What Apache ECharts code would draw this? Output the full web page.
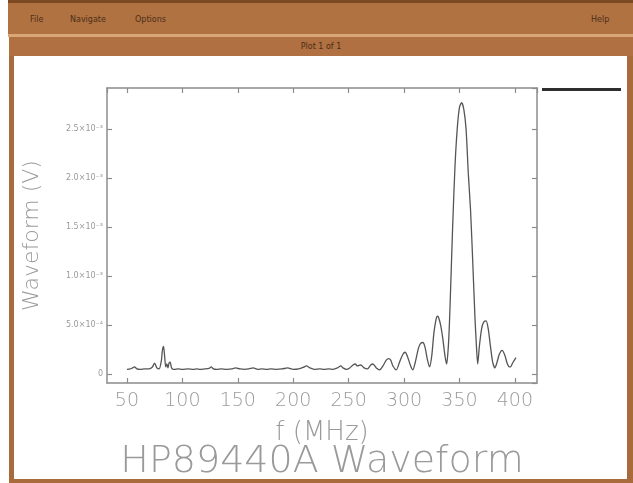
<!DOCTYPE html>
<html>
<head>
<meta charset="utf-8">
<title>HP89440A Waveform</title>
<script src="https://cdn.jsdelivr.net/npm/echarts@6/dist/echarts.min.js"></script>
<style>
  html, body { margin: 0; padding: 0; background: #fff; }
  #frame { position: absolute; left: 0; top: 0; width: 633px; height: 483px; overflow: hidden; }
  .menubar { position: absolute; left: 8px; top: 0; width: 625px; height: 34px;
    background: #b17242; border-top: 3px solid #7c4a22; box-sizing: border-box;
    font: 8px "DejaVu Sans", sans-serif; color: #4a2e18; }
  .menubar span { position: absolute; top: 12px; }
  .sep { position: absolute; left: 8px; top: 34px; width: 625px; height: 3px; background: #d9a676; }
  .titlebar { position: absolute; left: 9px; top: 37px; width: 624px; height: 19px;
    background: #b07041; font: 8px "DejaVu Sans", sans-serif; color: #4a2e18;
    text-align: center; line-height: 19px; }
  .side { position: absolute; background: #a96b3c; }
  #chart { position: absolute; left: 0; top: 0; width: 633px; height: 483px; }
</style>
</head>
<body>
<div id="frame">
  <div class="menubar">
    <span style="left:22px">File</span>
    <span style="left:62px">Navigate</span>
    <span style="left:127px">Options</span>
    <span style="left:583px">Help</span>
  </div>
  <div class="sep"></div>
  <div class="titlebar">Plot 1 of 1</div>
  <div class="side" style="left:9px; top:56px; width:5px; height:427px;"></div>
  <div class="side" style="left:627px; top:56px; width:6px; height:427px;"></div>
  <div class="side" style="left:9px; top:479px; width:624px; height:4px;"></div>
  <div id="chart"></div>
</div>
<script>
const freq = [
  50, 53, 55, 57, 59, 62, 66, 70, 73, 75, 77, 79, 81, 82, 83, 84, 85, 86, 87, 88,
  89, 90, 91, 93, 96, 100, 105, 110, 113, 116, 120, 124, 126, 128, 131, 135, 140, 145, 148, 152,
  156, 160, 164, 168, 172, 176, 180, 185, 190, 195, 200, 205, 209, 212, 215, 219, 224, 228, 232, 236,
  240, 243, 245, 248, 251, 254, 256, 258, 261, 264, 267, 270, 272, 275, 278, 281, 284, 286, 288, 290,
  293, 296, 299, 301, 303, 306, 308, 310, 313, 315, 317, 319, 321, 323, 325, 327, 329, 330, 331, 333,
  335, 337, 338.5, 340, 341, 342, 344, 346, 348, 350, 352, 354, 356, 358, 360, 362, 364, 365.5, 366.5, 368,
  370, 372, 374, 376, 378, 380, 382, 384, 386, 388.5, 391, 393, 395, 396, 398, 401
];
const volts = [
  4.5e-5, 5e-5, 6e-5, 7e-5, 5e-5, 4.5e-5, 5e-5, 5e-5, 7e-5, 1.1e-4, 6e-5, 5e-5, 1.3e-4, 2.4e-4, 2.8e-4, 1.8e-4, 7e-5, 1.0e-4, 6e-5, 1.1e-4,
  1.2e-4, 7e-5, 5e-5, 4.5e-5, 5e-5, 4.5e-5, 5e-5, 4.5e-5, 5e-5, 4.5e-5, 5e-5, 5.5e-5, 7e-5, 5e-5, 4.5e-5, 5e-5, 4.5e-5, 5e-5, 6e-5, 5e-5,
  4.5e-5, 5e-5, 6e-5, 4.5e-5, 5e-5, 4.5e-5, 5e-5, 4.5e-5, 5e-5, 6e-5, 4.5e-5, 5e-5, 6.5e-5, 8e-5, 6e-5, 4.5e-5, 5e-5, 4.5e-5, 5e-5, 4.5e-5,
  6e-5, 8e-5, 6e-5, 4.5e-5, 6e-5, 9e-5, 1.0e-4, 8e-5, 9e-5, 6e-5, 5e-5, 9e-5, 1.0e-4, 6e-5, 4e-5, 8e-5, 1.4e-4, 1.55e-4, 1.4e-4, 8e-5,
  4e-5, 1.2e-4, 2.0e-4, 2.2e-4, 1.8e-4, 8e-5, 4e-5, 1.1e-4, 2.6e-4, 3.1e-4, 3.2e-4, 2.7e-4, 1.5e-4, 7e-5, 1.8e-4, 4.2e-4, 5.6e-4, 5.9e-4, 5.8e-4, 5.0e-4,
  3.6e-4, 1.8e-4, 1.0e-4, 2.8e-4, 5.2e-4, 8.5e-4, 1.54e-3, 2.12e-3, 2.5e-3, 2.72e-3, 2.77e-3, 2.7e-3, 2.5e-3, 2.05e-3, 1.68e-3, 1.15e-3, 5.8e-4, 2.5e-4, 1.0e-4, 2.8e-4,
  4.6e-4, 5.3e-4, 5.4e-4, 4.6e-4, 2.8e-4, 1.2e-4, 6e-5, 1.2e-4, 2.0e-4, 2.4e-4, 1.9e-4, 1.1e-4, 7e-5, 7e-5, 1.1e-4, 1.65e-4
];
// y tick labels as printed on the plot
const yTickLabels = {
  "0": "0",
  "0.0005": "5.0×10⁻⁴",
  "0.001": "1.0×10⁻³",
  "0.0015": "1.5×10⁻³",
  "0.002": "2.0×10⁻³",
  "0.0025": "2.5×10⁻³"
};

const FONT = "DejaVu Sans";
const GREY = "#9a9a9a";
const AXIS = "#8c8c8c";

function frameAxis(extra) {
  return Object.assign({
    type: "value",
    axisLine: { show: true, onZero: false, lineStyle: { color: AXIS, width: 1.5 } },
    axisTick: { show: true, inside: true, length: 5, lineStyle: { color: AXIS, width: 1.2 } },
    splitLine: { show: false }
  }, extra);
}

let chart = echarts.init(document.getElementById("chart"));
chart.setOption({
  animation: false,
  backgroundColor: "transparent",
  title: {
    text: "HP89440A Waveform",
    left: 322,
    top: 443,
    padding: 0,
    textAlign: "center",
    textStyle: { fontFamily: FONT, fontSize: 38, fontWeight: "lighter", color: GREY }
  },
  legend: {
    left: 542,
    top: 88,
    padding: 0,
    icon: "rect",
    itemWidth: 79,
    itemHeight: 3,
    formatter: () => "",
    data: [{ name: "HP89440A Waveform", itemStyle: { color: "#2e2e2e" } }]
  },
  grid: { left: 107, top: 88, width: 430, height: 295, containLabel: false },
  xAxis: [
    frameAxis({
      min: 32, max: 420, splitNumber: 8,
      name: "f (MHz)", nameLocation: "middle", nameGap: 37,
      nameTextStyle: { fontFamily: FONT, fontSize: 26, fontWeight: "lighter", color: GREY },
      axisLabel: { showMinLabel: false, showMaxLabel: false, margin: 9,
        fontFamily: FONT, fontSize: 19, fontWeight: "lighter", color: GREY }
    }),
    frameAxis({ position: "top", min: 32, max: 420, splitNumber: 8, axisLabel: { show: false } })
  ],
  yAxis: [
    frameAxis({
      min: -9.4e-5, max: 2.92e-3, splitNumber: 6,
      name: "Waveform (V)", nameLocation: "middle", nameGap: 64,
      nameTextStyle: { fontFamily: FONT, fontSize: 22, fontWeight: "lighter", color: GREY },
      axisLabel: { showMinLabel: false, showMaxLabel: false, margin: 4,
        fontFamily: FONT, fontSize: 8, color: GREY,
        formatter: v => yTickLabels[String(+v.toFixed(6))] ?? "" }
    }),
    frameAxis({ position: "right", min: -9.4e-5, max: 2.92e-3, splitNumber: 6, axisLabel: { show: false } })
  ],
  series: [
    {
      name: "HP89440A Waveform",
      type: "line",
      data: freq.map((f, i) => [f, volts[i]]),
      showSymbol: false,
      smooth: 0.25,
      lineStyle: { color: "#555", width: 1.3 },
      itemStyle: { color: "#555" }
    }
  ]
});
</script>
</body>
</html>
